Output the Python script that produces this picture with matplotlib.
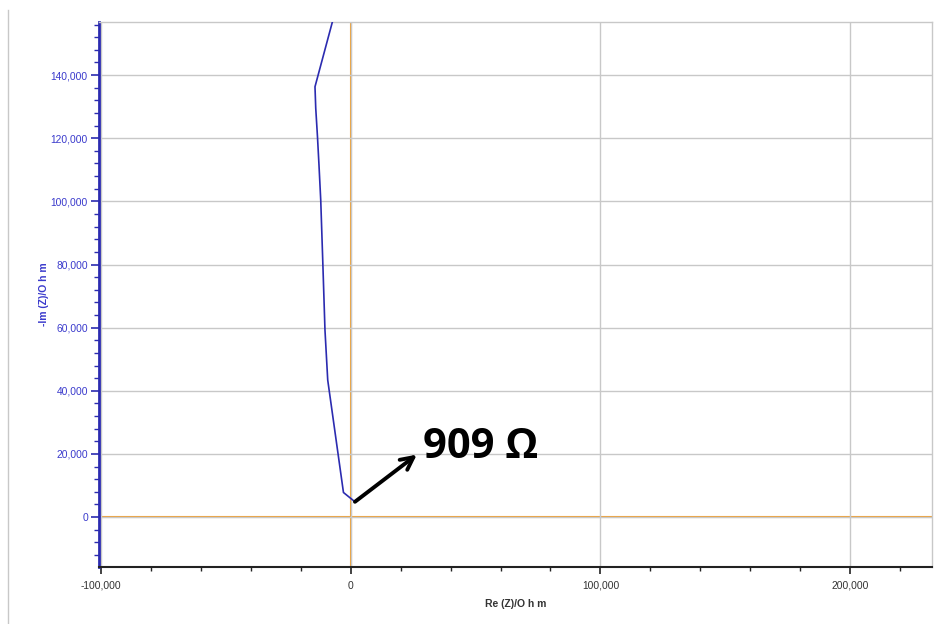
import matplotlib
matplotlib.use("Agg")
import matplotlib.pyplot as plt
from matplotlib.ticker import MultipleLocator, FuncFormatter
from matplotlib.lines import Line2D

# Nyquist data (Ohm)
re_z = [-5000, -14300, -14000, -13300, -12700, -12000, -11200, -10300, -9200, -2900, 1700]
neg_im_z = [163700, 136300, 129500, 120400, 111500, 100400, 81400, 59200, 43400, 7800, 4850]

annot_text = "909 \u03a9"
annot_point = (1700, 4850)
annot_text_pos = (26500, 19800)

xlim = (-100800, 232800)
ylim = (-15800, 156800)

fig = plt.figure(figsize=(9.5, 6.24), dpi=100)
ax = fig.add_axes([99/950, 57/624, 833/950, 545/624])

blue = "#2b2bb0"
label_blue = "#3a3acc"
grid_gray = "#c8c8c8"
orange = "#f0a030"

ax.set_xlim(*xlim)
ax.set_ylim(*ylim)

ax.xaxis.set_major_locator(MultipleLocator(100000))
ax.xaxis.set_minor_locator(MultipleLocator(20000))
ax.yaxis.set_major_locator(MultipleLocator(20000))
ax.yaxis.set_minor_locator(MultipleLocator(4000))
fmt = FuncFormatter(lambda v, p: f"{int(round(v)):,}")
ax.xaxis.set_major_formatter(fmt)
ax.yaxis.set_major_formatter(fmt)

ax.grid(True, which="major", color=grid_gray, lw=1.0, zorder=0)
ax.axhline(0, color=orange, lw=1.5, zorder=1)
ax.axvline(0, color=orange, lw=1.5, zorder=1)

ax.plot(re_z, neg_im_z, color=blue, lw=1.2, zorder=3)

ax.annotate("", xy=annot_text_pos, xytext=annot_point,
            arrowprops=dict(arrowstyle="->,head_length=0.9,head_width=0.45",
                            color="black", lw=2.8, shrinkA=0, shrinkB=0), zorder=4)
ax.text(28800, 21900, annot_text, fontsize=30, fontweight="bold",
        family="Open Sans", color="black", va="center", ha="left", zorder=5)

for s in ["top", "right"]:
    ax.spines[s].set_color(grid_gray)
    ax.spines[s].set_linewidth(1.0)
ax.spines["left"].set_color(blue)
ax.spines["left"].set_linewidth(2.0)
ax.spines["bottom"].set_color("#222222")
ax.spines["bottom"].set_linewidth(1.5)

ax.tick_params(axis="y", which="major", length=6, width=1.2, color=blue,
               labelcolor=label_blue, labelsize=7.4, pad=2)
ax.tick_params(axis="y", which="minor", length=3.5, width=1.0, color=blue)
ax.tick_params(axis="x", which="major", length=5, width=1.2, color="#222222",
               labelcolor="#333333", labelsize=7.4, pad=5)
ax.tick_params(axis="x", which="minor", length=3, width=1.0, color="#222222")
for lab in ax.get_xticklabels() + ax.get_yticklabels():
    lab.set_family("Liberation Sans")

ax.set_xlabel("Re (Z)/O h m", fontsize=7.5, color="#333333", fontweight="bold",
              family="Liberation Sans", labelpad=6)
ax.set_ylabel("-Im (Z)/O h m", fontsize=7.5, color=label_blue, fontweight="bold",
              family="Liberation Sans", labelpad=1)

fig.add_artist(Line2D([8/950, 8/950], [0, 614/624], transform=fig.transFigure,
                      color="#c8c8c8", lw=1.0))

fig.savefig("out.png", dpi=100)
